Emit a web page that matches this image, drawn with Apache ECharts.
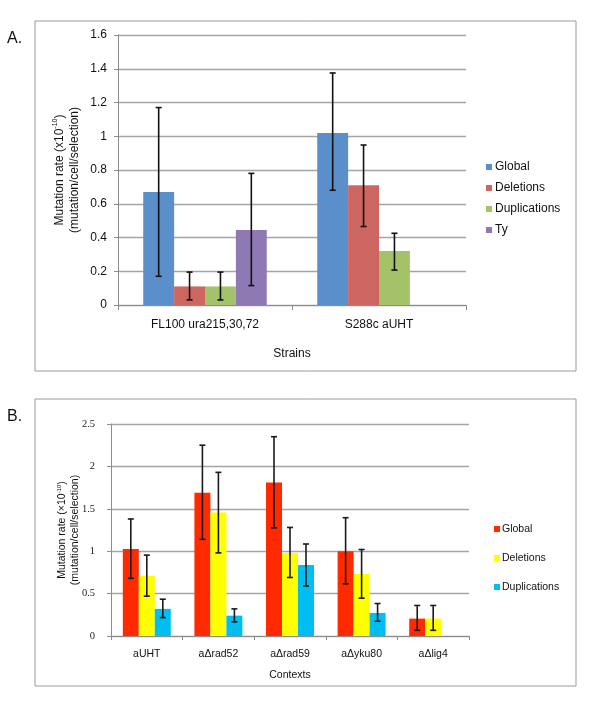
<!DOCTYPE html>
<html>
<head>
<meta charset="utf-8">
<script src="https://cdn.jsdelivr.net/npm/echarts@6/dist/echarts.min.js"></script>
<style>
html,body{margin:0;padding:0;background:#fff;}
#a{position:absolute;left:0;top:0;width:600px;height:372px;}
#b{position:absolute;left:0;top:372px;width:600px;height:331px;}
</style>
</head>
<body>
<div id="a"></div>
<div id="b"></div>
<script>
// ---- Panel A data ----
var strainCategories = ['FL100 ura215,30,72', 'S288c aUHT'];
var aGlobal = [0.67, 1.02];
var aGlobalLow = [0.17, 0.68];
var aGlobalHigh = [1.17, 1.375];
var aDeletions = [0.11, 0.71];
var aDeletionsLow = [0.03, 0.465];
var aDeletionsHigh = [0.195, 0.948];
var aDuplications = [0.11, 0.32];
var aDuplicationsLow = [0.03, 0.207];
var aDuplicationsHigh = [0.195, 0.425];
var aTy = [0.445, null];
var aTyLow = [0.115, null];
var aTyHigh = [0.78, null];

// ---- Panel B data ----
var contextCategories = ['aUHT', 'a\u0394rad52', 'a\u0394rad59', 'a\u0394yku80', 'a\u0394lig4'];
var bGlobal = [1.025, 1.69, 1.81, 1.0, 0.205];
var bGlobalLow = [0.68, 1.14, 1.275, 0.615, 0.067];
var bGlobalHigh = [1.38, 2.25, 2.35, 1.395, 0.36];
var bDeletions = [0.71, 1.455, 0.98, 0.73, 0.205];
var bDeletionsLow = [0.47, 0.98, 0.69, 0.446, 0.067];
var bDeletionsHigh = [0.954, 1.93, 1.28, 1.02, 0.36];
var bDuplications = [0.32, 0.24, 0.836, 0.272, null];
var bDuplicationsLow = [0.217, 0.166, 0.59, 0.174, null];
var bDuplicationsHigh = [0.434, 0.32, 1.085, 0.383, null];

var SANS = 'Liberation Sans, Arial, sans-serif';
var SERIF = 'Liberation Serif, Times New Roman, serif';

function errData(low, high) {
  var out = [];
  for (var i = 0; i < low.length; i++) {
    if (low[i] != null) out.push([i, low[i], high[i]]);
  }
  return out;
}

function errSeries(low, high, idx, count, gapFrac, capHalf, color) {
  return {
    type: 'custom',
    silent: true,
    z: 10,
    data: errData(low, high),
    encode: { x: 0, y: [1, 2] },
    renderItem: function (params, api) {
      var cat = api.value(0);
      var pLow = api.coord([cat, api.value(1)]);
      var pHigh = api.coord([cat, api.value(2)]);
      var catW = api.size([1, 0])[0];
      var barW = catW * (1 - gapFrac) / count;
      var x = pLow[0] + (idx - (count - 1) / 2) * barW;
      var st = { stroke: color, lineWidth: 1.6 };
      return {
        type: 'group',
        children: [
          { type: 'line', shape: { x1: x, y1: pLow[1], x2: x, y2: pHigh[1] }, style: st },
          { type: 'line', shape: { x1: x - capHalf, y1: pLow[1], x2: x + capHalf, y2: pLow[1] }, style: st },
          { type: 'line', shape: { x1: x - capHalf, y1: pHigh[1], x2: x + capHalf, y2: pHigh[1] }, style: st }
        ]
      };
    }
  };
}

// ---------- Chart A ----------
var colA = ['#5A8FCC', '#CD6660', '#A3C26A', '#8E79B4'];
var namesA = ['Global', 'Deletions', 'Duplications', 'Ty'];
var valsA = [aGlobal, aDeletions, aDuplications, aTy];
var lowA = [aGlobalLow, aDeletionsLow, aDuplicationsLow, aTyLow];
var highA = [aGlobalHigh, aDeletionsHigh, aDuplicationsHigh, aTyHigh];
var gapA = 0.29;
var seriesA = [];
for (var i = 0; i < 4; i++) {
  seriesA.push({
    name: namesA[i], type: 'bar', data: valsA[i],
    barGap: '0%', barCategoryGap: (gapA * 100) + '%',
    itemStyle: { color: colA[i] }
  });
}
for (var i = 0; i < 4; i++) seriesA.push(errSeries(lowA[i], highA[i], i, 4, gapA, 3, '#111'));

var chartA = echarts.init(document.getElementById('a'), null, { renderer: 'canvas' });
chartA.setOption({
  animation: false,
  textStyle: { fontFamily: SANS },
  grid: { left: 118, right: 134, top: 35, bottom: 67 },
  graphic: [
    { type: 'rect', shape: { x: 35, y: 21, width: 541, height: 350 }, style: { fill: 'none', stroke: '#9a9a9a', lineWidth: 1 }, z: 0 },
    { type: 'text', left: 7, top: 31, style: { text: 'A.', font: '16px ' + SANS, fill: '#111' } },
    { type: 'text', x: 292, y: 354, style: { text: 'Strains', font: '12px ' + SANS, fill: '#111', align: 'center', verticalAlign: 'middle' } }
  ],
  legend: {
    orient: 'vertical', left: 486, top: 160, padding: 0,
    itemWidth: 6, itemHeight: 6, itemGap: 7, icon: 'rect',
    textStyle: { fontSize: 12, fontFamily: SANS, color: '#111', lineHeight: 14, padding: [0, 0, 0, -2] },
    data: namesA
  },
  xAxis: {
    type: 'category', data: strainCategories,
    axisLine: { lineStyle: { color: '#8c8c8c', width: 1 } },
    axisTick: { show: true, length: 5, lineStyle: { color: '#8c8c8c' } },
    axisLabel: { fontSize: 12, color: '#111', margin: 14, fontFamily: SANS }
  },
  yAxis: {
    type: 'value', min: 0, max: 1.6, interval: 0.2,
    name: 'Mutation rate (x10{sup|-10})\n(mutation/cell/selection)',
    nameLocation: 'middle', nameGap: 36, nameRotate: 90, nameMoveOverlap: false,
    nameTextStyle: {
      fontSize: 12, color: '#111', fontFamily: SANS, lineHeight: 15,
      rich: { sup: { fontSize: 7, verticalAlign: 'top', lineHeight: 15, padding: [0, 0, 6, 0] } }
    },
    axisLine: { show: true, lineStyle: { color: '#8c8c8c' } },
    axisTick: { show: true, length: 4, inside: false, lineStyle: { color: '#8c8c8c' } },
    splitLine: { lineStyle: { color: '#a5a5a5', width: 1.3 } },
    axisLabel: {
      fontSize: 12, color: '#111', margin: 11, fontFamily: SANS,
      formatter: function (v) { return String(Math.round(v * 10) / 10); }
    }
  },
  series: seriesA
});

// ---------- Chart B ----------
var colB = ['#FF2A00', '#FFFF00', '#00BDF2'];
var namesB = ['Global', 'Deletions', 'Duplications'];
var valsB = [bGlobal, bDeletions, bDuplications];
var lowB = [bGlobalLow, bDeletionsLow, bDuplicationsLow];
var highB = [bGlobalHigh, bDeletionsHigh, bDuplicationsHigh];
var gapB = 0.33;
var seriesB = [];
for (var i = 0; i < 3; i++) {
  seriesB.push({
    name: namesB[i], type: 'bar', data: valsB[i],
    barGap: '0%', barCategoryGap: (gapB * 100) + '%',
    itemStyle: { color: colB[i] }
  });
}
for (var i = 0; i < 3; i++) seriesB.push(errSeries(lowB[i], highB[i], i, 3, gapB, 3, '#1a1a1a'));

var chartB = echarts.init(document.getElementById('b'), null, { renderer: 'canvas' });
chartB.setOption({
  animation: false,
  textStyle: { fontFamily: SANS },
  grid: { left: 111, right: 131, top: 52, bottom: 67 },
  graphic: [
    { type: 'rect', shape: { x: 35, y: 27, width: 541, height: 287 }, style: { fill: 'none', stroke: '#9a9a9a', lineWidth: 1 }, z: 0 },
    { type: 'text', left: 7, top: 37, style: { text: 'B.', font: '16px ' + SANS, fill: '#111' } },
    { type: 'text', x: 290, y: 303, style: { text: 'Contexts', font: '10.5px ' + SANS, fill: '#111', align: 'center', verticalAlign: 'middle' } }
  ],
  legend: {
    orient: 'vertical', left: 494, top: 151, padding: 0,
    itemWidth: 6, itemHeight: 6, itemGap: 17, icon: 'rect',
    textStyle: { fontSize: 10.5, fontFamily: SANS, color: '#111', lineHeight: 12, padding: [0, 0, 0, -3] },
    data: namesB
  },
  xAxis: {
    type: 'category', data: contextCategories,
    axisLine: { lineStyle: { color: '#8c8c8c', width: 1 } },
    axisTick: { show: true, length: 4, lineStyle: { color: '#8c8c8c' } },
    axisLabel: { fontSize: 10.5, color: '#111', margin: 13, fontFamily: SANS }
  },
  yAxis: {
    type: 'value', min: 0, max: 2.5, interval: 0.5,
    name: 'Mutation rate (\u00d710{sup|-10})\n(mutation/cell/selection)',
    nameLocation: 'middle', nameGap: 29, nameRotate: 90, nameMoveOverlap: false,
    nameTextStyle: {
      fontSize: 10.5, color: '#111', fontFamily: SANS, lineHeight: 13,
      rich: { sup: { fontSize: 6, verticalAlign: 'top', lineHeight: 13, padding: [0, 0, 5, 0] } }
    },
    axisLine: { show: true, lineStyle: { color: '#8c8c8c' } },
    axisTick: { show: true, length: 4, lineStyle: { color: '#8c8c8c' } },
    splitLine: { lineStyle: { color: '#a5a5a5', width: 1.3 } },
    axisLabel: {
      fontSize: 10.5, color: '#222', margin: 16, fontFamily: SERIF,
      formatter: function (v) { return String(Math.round(v * 10) / 10); }
    }
  },
  series: seriesB
});
</script>
</body>
</html>
